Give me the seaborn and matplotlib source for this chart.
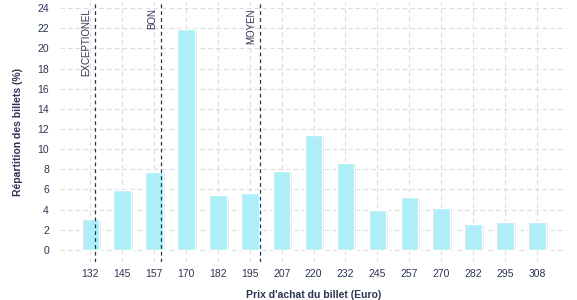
import numpy as np
import pandas as pd
import matplotlib
matplotlib.use('Agg')
import matplotlib.pyplot as plt
import seaborn as sns

# valeurs
prix = ['132', '145', '157', '170', '182', '195', '207', '220', '232',
        '245', '257', '270', '282', '295', '308']
repartition = [3.1, 5.9, 7.7, 21.9, 5.4, 5.6, 7.8, 11.4, 8.6,
               4.0, 5.2, 4.2, 2.6, 2.8, 2.8]
seuils_prix = [134, 160, 199]
seuils_noms = ['EXCEPTIONEL', 'BON', 'MOYEN']

df = pd.DataFrame({'prix': prix, 'repartition': repartition})

sns.set_style('white')
plt.rcParams['font.family'] = ['Liberation Sans', 'DejaVu Sans']

fig = plt.figure(figsize=(5.77, 3.0), dpi=100)
ax = fig.add_axes([0.104, 0.127, 0.879, 0.866])

txt = '#2b3452'

# ombre grise a droite des barres
sns.barplot(data=df, x='prix', y='repartition', color='#e0e0e0', width=0.55,
            saturation=1, ax=ax, zorder=2)
for p in ax.patches:
    p.set_x(p.get_x() + 0.06)
sns.barplot(data=df, x='prix', y='repartition', color='#aeeef8', width=0.55,
            saturation=1, ax=ax, zorder=3)

ax.set_xlim(-0.95, len(prix) - 0.05)
ax.set_ylim(-1.2, 24.6)
ax.set_yticks(np.arange(0, 25, 2))

ax.grid(True, color='#dcdcdc', linestyle=(0, (4, 3)), linewidth=0.8, zorder=0)
ax.set_axisbelow(True)
for s in ax.spines.values():
    s.set_visible(False)
ax.tick_params(axis='both', length=0, labelsize=7.5, labelcolor=txt)
ax.tick_params(axis='x', pad=5)
ax.tick_params(axis='y', pad=8)

# seuils de qualite
pos_num = [float(v) for v in prix]
for sp, nom in zip(seuils_prix, seuils_noms):
    xp = np.interp(sp, pos_num, np.arange(len(prix)))
    ax.axvline(xp, color=txt, linestyle=(0, (3, 2.5)), linewidth=0.9, zorder=4)
    ax.text(xp - 0.12, 24.0, nom, rotation=90, ha='right', va='top',
            fontsize=7, color=txt, zorder=5)

ax.set_xlabel("Prix d'achat du billet (Euro)", fontsize=7.5, fontweight='bold',
              color=txt, labelpad=8)
ax.set_ylabel('Répartition des billets (%)', fontsize=7.5, fontweight='bold',
              color=txt, labelpad=10)

fig.savefig('out.png', dpi=100)
